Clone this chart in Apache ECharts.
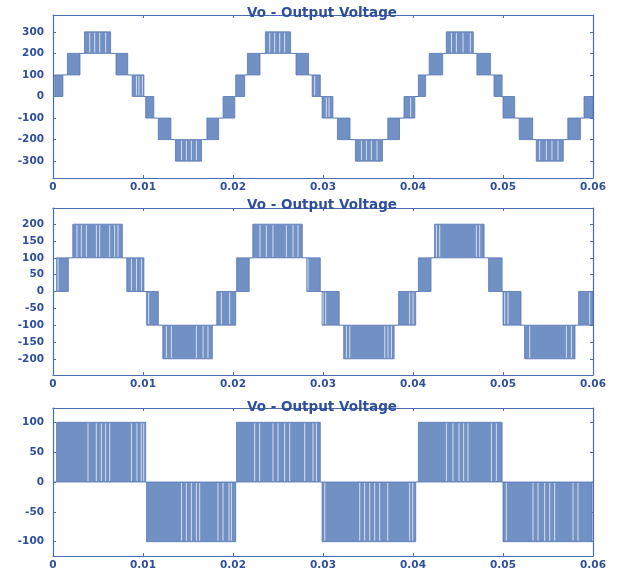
<!DOCTYPE html>
<html>
<head>
<meta charset="utf-8">
<title>Vo - Output Voltage</title>
<script src="https://cdn.jsdelivr.net/npm/echarts@6/dist/echarts.min.js"></script>
<style>
  html, body { margin: 0; padding: 0; background: #fff; }
  #chart { width: 617px; height: 571px; }
</style>
</head>
<body>
<div id="chart"></div>
<script>
// time axis (s)
const tMin = 0
const tMax = 0.06
const tStep = 0.01

// y ticks of the three plots
const yTicks1 = [-300, -200, -100, 0, 100, 200, 300]
const yTicks2 = [-200, -150, -100, -50, 0, 50, 100, 150, 200]
const yTicks3 = [-100, -50, 0, 50, 100]

// PWM bands: [t start, t end, low level, high level]
const blocks1 = [
  [0.0002, 0.0011, 0, 100], [0.0016, 0.0030, 100, 200], [0.0035, 0.0064, 200, 300],
  [0.0070, 0.0083, 100, 200], [0.0088, 0.0101, 0, 100], [0.0103, 0.0112, -100, 0],
  [0.0117, 0.0131, -200, -100], [0.0136, 0.0165, -300, -200], [0.0171, 0.0184, -200, -100],
  [0.0189, 0.0202, -100, 0], [0.0203, 0.0213, 0, 100], [0.0216, 0.0230, 100, 200],
  [0.0236, 0.0264, 200, 300], [0.0270, 0.0284, 100, 200], [0.0288, 0.0297, 0, 100],
  [0.0299, 0.0311, -100, 0], [0.0316, 0.0330, -200, -100], [0.0336, 0.0366, -300, -200],
  [0.0372, 0.0385, -200, -100], [0.0390, 0.0402, -100, 0], [0.0406, 0.0414, 0, 100],
  [0.0418, 0.0433, 100, 200], [0.0437, 0.0467, 200, 300], [0.0471, 0.0486, 100, 200],
  [0.0490, 0.0499, 0, 100], [0.0500, 0.0513, -100, 0], [0.0518, 0.0533, -200, -100],
  [0.0537, 0.0567, -300, -200], [0.0572, 0.0586, -200, -100], [0.0590, 0.0600, -100, 0],
]
const blocks2 = [
  [0.0004, 0.0017, 0, 100], [0.0022, 0.0077, 100, 200], [0.0082, 0.0101, 0, 100],
  [0.0104, 0.0117, -100, 0], [0.0122, 0.0177, -200, -100], [0.0182, 0.0203, -100, 0],
  [0.0204, 0.0218, 0, 100], [0.0222, 0.0277, 100, 200], [0.0282, 0.0297, 0, 100],
  [0.0299, 0.0318, -100, 0], [0.0323, 0.0379, -200, -100], [0.0384, 0.0403, -100, 0],
  [0.0406, 0.0420, 0, 100], [0.0424, 0.0479, 100, 200], [0.0484, 0.0499, 0, 100],
  [0.0500, 0.0520, -100, 0], [0.0524, 0.0580, -200, -100], [0.0584, 0.0600, -100, 0],
]
const blocks3 = [
  [0.0004, 0.0103, 0, 100], [0.0104, 0.0203, -100, 0], [0.0204, 0.0297, 0, 100],
  [0.0299, 0.0403, -100, 0], [0.0406, 0.0499, 0, 100], [0.0500, 0.0599, -100, 0],
]

// white notches inside the bands (times)
const gaps1 = [
  0.00408, 0.00463, 0.00519, 0.00585, 0.00927, 0.00955, 0.00993,
  0.01427, 0.01482, 0.01537, 0.01593, 0.02408, 0.02463, 0.02519, 0.02574,
  0.02908, 0.03037, 0.03067, 0.03427, 0.03482, 0.03537, 0.0360, 0.03974,
  0.04427, 0.04482, 0.04556, 0.04637, 0.05407, 0.05482, 0.05544, 0.05611,
]
const gaps2 = [
  0.00056, 0.00267, 0.00315, 0.00371, 0.00482, 0.00519, 0.0063, 0.00685, 0.00722,
  0.00871, 0.00927, 0.00982, 0.01063, 0.0126, 0.01315, 0.01593, 0.01667, 0.01722,
  0.01871, 0.01963, 0.0230, 0.02371, 0.02444, 0.02593, 0.02667, 0.02722, 0.02833,
  0.0300, 0.0303, 0.0326, 0.03297, 0.03686, 0.03722, 0.0376, 0.03963, 0.0400,
  0.0426, 0.04297, 0.04704, 0.04741, 0.05019, 0.05056, 0.05297, 0.05704, 0.0576, 0.05963,
]
const gaps3 = [
  0.00389, 0.00481, 0.00537, 0.00585, 0.0063, 0.00871, 0.00933, 0.00981, 0.01008,
  0.01427, 0.01482, 0.01537, 0.01593, 0.0163, 0.01833, 0.01889, 0.01956, 0.01982,
  0.02241, 0.02296, 0.02444, 0.025, 0.02574, 0.0263, 0.02797, 0.02889, 0.02926,
  0.0302, 0.03408, 0.03463, 0.03519, 0.03574, 0.0363, 0.03719, 0.03963, 0.03997,
  0.04371, 0.04444, 0.04511, 0.04563, 0.04611, 0.04871, 0.04926,
  0.05037, 0.05333, 0.05389, 0.05463, 0.05519, 0.05574, 0.05778, 0.05833,
]

const plots = [
  { blocks: blocks1, gaps: gaps1, ticks: yTicks1, min: -378, max: 378 },
  { blocks: blocks2, gaps: gaps2, ticks: yTicks2, min: -248, max: 248 },
  { blocks: blocks3, gaps: gaps3, ticks: yTicks3, min: -124, max: 124 },
]

const FILL = '#7190c4'
const EDGE = '#5877b6'
const AXIS = '#4a6cb3'
const TEXT = '#2f4f9c'

// flat parts between the bands
function holdsOf(blocks) {
  const out = []
  if (blocks[0][0] > tMin) out.push([tMin, blocks[0][0], 0])
  for (let i = 1; i < blocks.length; i++) {
    const a = blocks[i - 1]
    const b = blocks[i]
    let level = a[2]
    if (a[3] === b[2]) level = a[3]
    else if (a[2] === b[3]) level = a[2]
    out.push([a[1], b[0], level])
  }
  const last = blocks[blocks.length - 1]
  if (last[1] < tMax) out.push([last[1], tMax, 0])
  return out
}

function gapsOf(blocks, gaps) {
  const out = []
  gaps.forEach(t => {
    const b = blocks.find(k => t >= k[0] && t <= k[1])
    if (b) out.push([t, b[2], b[3]])
  })
  return out
}

function renderBlock(params, api) {
  const a = api.coord([api.value(0), api.value(3)])
  const b = api.coord([api.value(1), api.value(2)])
  return {
    type: 'rect',
    shape: { x: a[0], y: a[1], width: b[0] - a[0], height: b[1] - a[1] },
    style: { fill: FILL, stroke: EDGE, lineWidth: 0.8 },
  }
}

function renderHold(params, api) {
  const a = api.coord([api.value(0), api.value(2)])
  const b = api.coord([api.value(1), api.value(2)])
  return {
    type: 'line',
    shape: { x1: a[0], y1: a[1], x2: b[0], y2: b[1] },
    style: { stroke: EDGE, lineWidth: 1 },
  }
}

function renderGap(params, api) {
  const a = api.coord([api.value(0), api.value(2)])
  const b = api.coord([api.value(0), api.value(1)])
  return {
    type: 'line',
    shape: { x1: a[0], y1: a[1] + 1, x2: b[0], y2: b[1] - 1 },
    style: { stroke: '#ffffff', lineWidth: 1, opacity: 0.7 },
  }
}

const grids = [
  { left: 53, right: 24, top: 15, height: 163 },
  { left: 53, right: 24, top: 208, height: 167 },
  { left: 53, right: 24, top: 408, height: 150 },
]
const titleTops = [1, 193, 395]

const xAxes = []
const yAxes = []
const series = []
const titles = []

plots.forEach((p, i) => {
  titles.push({
    text: 'Vo - Output Voltage',
    left: 317,
    top: titleTops[i],
    textAlign: 'center',
    textStyle: { fontFamily: 'DejaVu Sans', fontSize: 13.5, fontWeight: 'bold', color: TEXT },
  })
  const line = { show: true, onZero: false, lineStyle: { color: AXIS, width: 1.2 } }
  const label = { color: TEXT, fontSize: 10.5, fontWeight: 'bold', fontFamily: 'DejaVu Sans' }
  xAxes.push({
    type: 'value', gridIndex: i, min: tMin, max: tMax, interval: tStep,
    axisLine: line,
    axisTick: { inside: true, length: 3, lineStyle: { color: AXIS } },
    axisLabel: Object.assign({ margin: 4, formatter: v => (v === 0 ? '0' : v.toFixed(2)) }, label),
    splitLine: { show: false },
  })
  xAxes.push({
    type: 'value', gridIndex: i, position: 'top', min: tMin, max: tMax, interval: tStep,
    axisLine: line,
    axisTick: { inside: true, length: 3, lineStyle: { color: AXIS } },
    axisLabel: { show: false },
    splitLine: { show: false },
  })
  yAxes.push({
    type: 'value', gridIndex: i, min: p.min, max: p.max,
    axisLine: line,
    axisTick: { inside: true, length: 3, customValues: p.ticks, lineStyle: { color: AXIS } },
    axisLabel: Object.assign({ margin: 9, customValues: p.ticks }, label),
    splitLine: { show: false },
  })
  yAxes.push({
    type: 'value', gridIndex: i, position: 'right', min: p.min, max: p.max,
    axisLine: line,
    axisTick: { inside: true, length: 3, customValues: p.ticks, lineStyle: { color: AXIS } },
    axisLabel: { show: false },
    splitLine: { show: false },
  })

  series.push({
    type: 'custom', xAxisIndex: 2 * i, yAxisIndex: 2 * i, clip: true,
    renderItem: renderHold, data: holdsOf(p.blocks), z: 2,
  })
  series.push({
    type: 'custom', xAxisIndex: 2 * i, yAxisIndex: 2 * i, clip: true,
    renderItem: renderBlock, data: p.blocks, z: 3,
  })
  series.push({
    type: 'custom', xAxisIndex: 2 * i, yAxisIndex: 2 * i, clip: true,
    renderItem: renderGap, data: gapsOf(p.blocks, p.gaps), z: 4,
  })
})

const chart = echarts.init(document.getElementById('chart'))
chart.setOption({
  animation: false,
  backgroundColor: '#ffffff',
  title: titles,
  grid: grids,
  xAxis: xAxes,
  yAxis: yAxes,
  series: series,
})
</script>
</body>
</html>
